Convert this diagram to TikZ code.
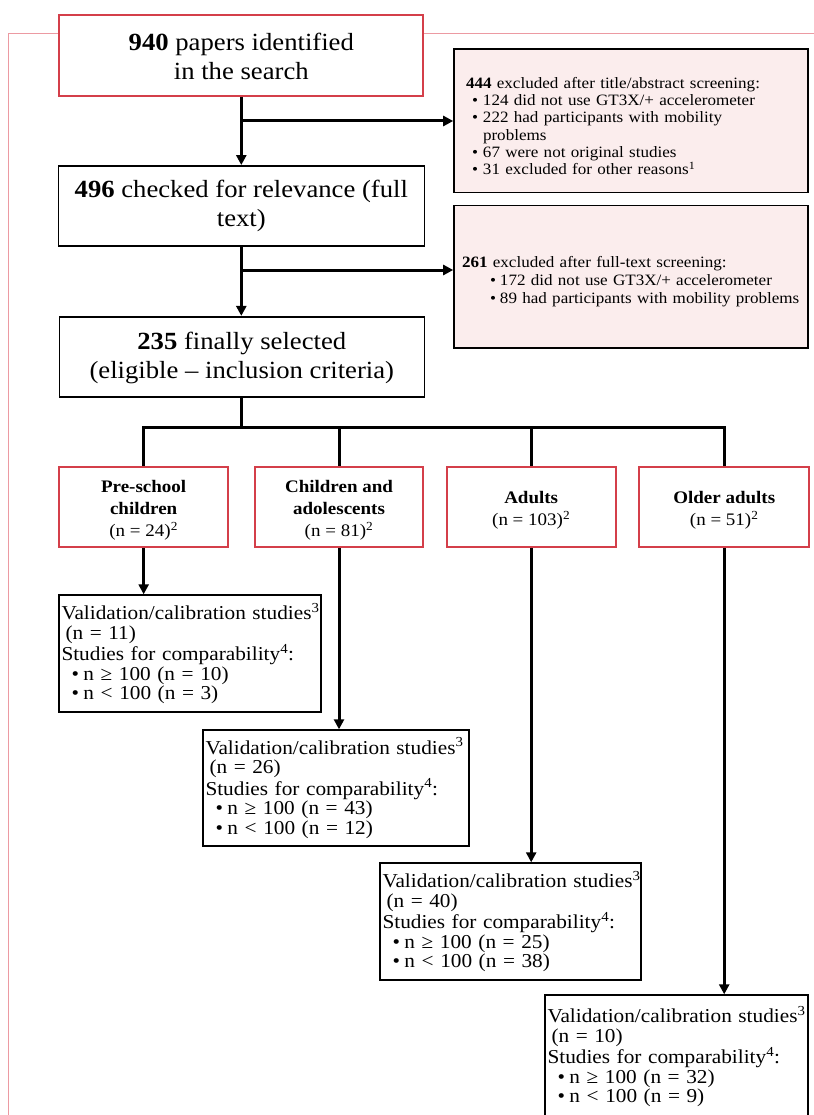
\documentclass[tikz,border=0pt]{standalone}
\usepackage{fontspec}
\setmainfont{Liberation Serif}[FakeStretch=1.08]
\usetikzlibrary{arrows.meta}
\definecolor{boxred}{HTML}{D43F4A}
\definecolor{framecol}{HTML}{EC9AA2}
\definecolor{exclfill}{HTML}{FBEDED}
\newcommand{\exbul}{\hspace*{6pt}\makebox[11pt][l]{\textbullet}}
\newcommand{\exbulb}{\hspace*{28pt}\makebox[10pt][l]{\textbullet}}
\newcommand{\rsbul}{\hspace*{10pt}\makebox[12pt][l]{\textbullet}}
\begin{document}
\begin{tikzpicture}[x=1pt,y=-1pt,
  mainbox/.style={draw=black, line width=1.6pt, fill=white, align=center,
    font=\fontsize{24.7}{29}\selectfont, inner sep=0pt},
  redbox/.style={mainbox, draw=boxred, line width=2pt},
  exclbox/.style={draw=black, line width=1.6pt, fill=exclfill, align=left,
    font=\fontsize{15.8}{17.3}\selectfont, inner ysep=0pt},
  catbox/.style={draw=boxred, line width=2pt, fill=white, align=center,
    font=\fontsize{17.6}{22}\selectfont, inner sep=0pt},
  resbox/.style={draw=black, line width=1.4pt, fill=white, align=left,
    font=\fontsize{19.7}{19.3}\selectfont, inner xsep=2.5pt, inner ysep=0pt},
  conn/.style={line width=3pt},
  arr/.style={conn, -{Triangle[length=10pt,width=10pt]}}]
\useasboundingbox (0,0) rectangle (813,1115);
\fill[white] (0,0) rectangle (813,1115);
% frame
\draw[framecol, line width=1.3pt] (816,33.3) -- (8.7,33.3) -- (8.7,1118);
% main boxes
\node[redbox, minimum width=364pt, minimum height=81pt] (b1) at (241.3,55.5)
  {\rule{0pt}{20pt}\textbf{940} papers identified\\in the search};
\node[mainbox, minimum width=366pt, minimum height=80.3pt] (b2) at (241.3,206)
  {\textbf{496} checked for relevance (full\\text)};
\node[mainbox, minimum width=365pt, minimum height=80pt] (b3) at (241.8,356.7)
  {\rule{0pt}{20pt}\textbf{235} finally selected\\(eligible – inclusion criteria)};
% exclusion boxes
\node[exclbox, inner xsep=12pt, text width=330pt, minimum width=354pt, minimum height=143.4pt] (e1) at (631,121)
  {\rule{0pt}{21pt}\textbf{444} excluded after title/abstract screening:\\
   \exbul 124 did not use GT3X/+ accelerometer\\
   \exbul 222 had participants with mobility\\
   \hspace*{17pt}problems\\
   \exbul 67 were not original studies\\
   \exbul 31 excluded for other reasons\textsuperscript{1}};
\node[exclbox, inner xsep=8pt, text width=338pt, minimum width=354pt, minimum height=142pt,
  font=\fontsize{15.8}{18}\selectfont] (e2) at (631,276.7)
  {\rule{0pt}{21pt}\textbf{261} excluded after full-text screening:\\
   \exbulb 172 did not use GT3X/+ accelerometer\\
   \exbulb 89 had participants with mobility problems};
% category boxes
\node[catbox, minimum width=168.7pt, minimum height=80pt] (ca) at (143.65,506.8)
  {\rule{0pt}{19pt}\textbf{Pre-school}\\\textbf{children}\\(n = 24)\textsuperscript{2}};
\node[catbox, minimum width=168pt, minimum height=80pt] (cb) at (339,506.8)
  {\rule{0pt}{19pt}\textbf{Children and}\\\textbf{adolescents}\\(n = 81)\textsuperscript{2}};
\node[catbox, minimum width=169pt, minimum height=80pt] (cc) at (531.2,506.8)
  {\rule{0pt}{19pt}\textbf{Adults}\\(n = 103)\textsuperscript{2}};
\node[catbox, minimum width=169.7pt, minimum height=80pt] (cd) at (724.2,506.8)
  {\rule{0pt}{19pt}\textbf{Older adults}\\(n = 51)\textsuperscript{2}};
% result boxes
\node[resbox, text width=257pt, minimum width=262pt, minimum height=117pt] (ra) at (190,653.5)
  {\mbox{Validation/calibration studies\textsuperscript{3}}\\
   \hspace*{4pt}(n = 11)\\
   Studies for comparability\textsuperscript{4}:\\
   \rsbul n ≥ 100 (n = 10)\\
   \rsbul n < 100 (n = 3)};
\node[resbox, text width=261pt, minimum width=266pt, minimum height=116pt] (rb) at (336,788)
  {\mbox{Validation/calibration studies\textsuperscript{3}}\\
   \hspace*{4pt}(n = 26)\\
   Studies for comparability\textsuperscript{4}:\\
   \rsbul n ≥ 100 (n = 43)\\
   \rsbul n < 100 (n = 12)};
\node[resbox, text width=256pt, minimum width=261pt, minimum height=117pt] (rc) at (510.5,921.5)
  {\mbox{Validation/calibration studies\textsuperscript{3}}\\
   \hspace*{4pt}(n = 40)\\
   Studies for comparability\textsuperscript{4}:\\
   \rsbul n ≥ 100 (n = 25)\\
   \rsbul n < 100 (n = 38)};
\node[resbox, text width=258pt, minimum width=263pt, minimum height=123pt] (rd) at (676.5,1056.5)
  {\mbox{Validation/calibration studies\textsuperscript{3}}\\
   \hspace*{4pt}(n = 10)\\
   Studies for comparability\textsuperscript{4}:\\
   \rsbul n ≥ 100 (n = 32)\\
   \rsbul n < 100 (n = 9)};
% connectors
\coordinate (j2) at (241.3,270);
\coordinate (hb) at (241.8,427.7);
\draw[arr] (b1.south) -- (b2.north);
\draw[arr] (b1.south |- e1.west) -- (e1.west);
\draw[arr] (b2.south) -- (b2.south |- b3.north);
\draw[arr] (j2) -- (j2 -| e2.west);
\draw[conn] (b3.south) -- (hb);
\draw[conn, line join=miter] (ca.north) -- (ca.north |- hb) -- (cd.north |- hb) -- (cd.north);
\draw[conn] (cb.north) -- (cb.north |- hb);
\draw[conn] (cc.north) -- (cc.north |- hb);
\draw[arr] (ca.south) -- (ca.south |- ra.north);
\draw[arr] (cb.south) -- (cb.south |- rb.north);
\draw[arr] (cc.south) -- (cc.south |- rc.north);
\draw[arr] (cd.south) -- (cd.south |- rd.north);
\end{tikzpicture}
\end{document}
